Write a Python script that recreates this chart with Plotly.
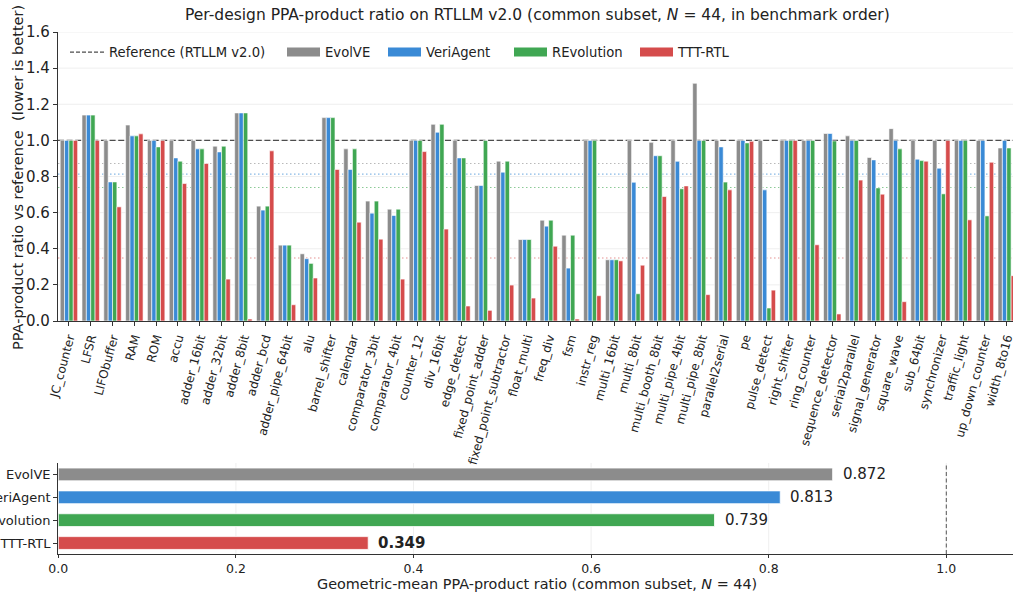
import plotly.graph_objects as go
from plotly.subplots import make_subplots

# Designs in benchmark order
designs = [
    "JC_counter", "LFSR", "LIFObuffer", "RAM", "ROM", "accu", "adder_16bit",
    "adder_32bit", "adder_8bit", "adder_bcd", "adder_pipe_64bit", "alu",
    "barrel_shifter", "calendar", "comparator_3bit", "comparator_4bit",
    "counter_12", "div_16bit", "edge_detect", "fixed_point_adder",
    "fixed_point_subtractor", "float_multi", "freq_div", "fsm", "instr_reg",
    "multi_16bit", "multi_8bit", "multi_booth_8bit", "multi_pipe_4bit",
    "multi_pipe_8bit", "parallel2serial", "pe", "pulse_detect", "right_shifter",
    "ring_counter", "sequence_detector", "serial2parallel", "signal_generator",
    "square_wave", "sub_64bit", "synchronizer", "traffic_light",
    "up_down_counter", "width_8to16",
]

# PPA-product ratio vs RTLLM v2.0 reference, per method
evolve = [1.0, 1.14, 1.0, 1.085, 1.0, 1.0, 1.0, 0.968, 1.152, 0.636, 0.42,
          0.372, 1.126, 0.953, 0.664, 0.619, 1.0, 1.089, 1.0, 0.75, 0.885,
          0.451, 0.558, 0.475, 1.0, 0.339, 1.0, 0.989, 1.0, 1.316, 1.0, 1.0,
          1.0, 1.0, 1.0, 1.038, 1.025, 0.905, 1.065, 1.0, 1.0, 1.0, 1.0, 0.958]
veriagent = [1.0, 1.14, 0.77, 1.025, 1.0, 0.903, 0.953, 0.936, 1.152, 0.614,
             0.42, 0.345, 1.126, 0.839, 0.597, 0.584, 1.0, 1.045, 0.903, 0.75,
             0.824, 0.451, 0.525, 0.293, 1.0, 0.339, 0.768, 0.915, 0.884, 1.0,
             0.964, 1.0, 0.726, 1.0, 1.0, 1.038, 1.0, 0.892, 1.0, 0.896, 0.846,
             1.0, 1.0, 1.0]
revolution = [1.0, 1.14, 0.77, 1.025, 0.964, 0.885, 0.953, 0.968, 1.152, 0.636,
              0.42, 0.319, 1.126, 0.953, 0.664, 0.619, 1.0, 1.089, 0.903, 1.0,
              0.885, 0.451, 0.558, 0.475, 1.0, 0.339, 0.151, 0.915, 0.732, 1.0,
              0.769, 0.986, 0.072, 1.0, 1.0, 0.997, 1.0, 0.737, 0.953, 0.888,
              0.704, 1.0, 0.582, 0.958]
ttt_rtl = [1.0, 1.0, 0.632, 1.036, 1.0, 0.761, 0.872, 0.232, 0.011, 0.942,
           0.09, 0.238, 0.839, 0.547, 0.453, 0.232, 0.938, 0.509, 0.083, 0.059,
           0.199, 0.127, 0.414, 0.011, 0.14, 0.333, 0.309, 0.689, 0.748, 0.146,
           0.726, 0.995, 0.171, 1.0, 0.422, 0.039, 0.78, 0.702, 0.107, 0.885,
           1.0, 0.56, 0.879, 0.251]

methods = ["EvolVE", "VeriAgent", "REvolution", "TTT-RTL"]
geo_means = [0.872, 0.813, 0.739, 0.349]
reference_level = 1.0
reference_name = "Reference (RTLLM v2.0)"
n_common = 44

colors = ["#8c8c8c", "#3a8ad6", "#40a753", "#d54c4c"]
series = [evolve, veriagent, revolution, ttt_rtl]

W, H = 1013, 595
FONT = "DejaVu Sans"
INK = "#222222"
SPINE = "#333333"
GRID = "#ebebeb"
REF_COLOR = "#4d4d4d"

TOP_YMAX = 1.6
TOP_XMAX = -0.5 + (W - 58) / 21.81
BOT_XMAX = (W - 58.3) / 888
BOT_YRANGE = [3.48, -0.5]


def px_x(p):
    return p / W


def px_y(p):
    return 1 - p / H


fig = make_subplots(rows=2, cols=1)

# Legend entries, each in its own legend box: short dashed line for the
# reference, wide colour swatches for the methods
legend_slots = [("legend", 65, 34)] + [
    (f"legend{i + 2}", x, 33) for i, x in enumerate([282, 383, 509, 635])
]
fig.add_trace(go.Scatter(
    x=[designs[0]], y=[None], mode="lines", name=reference_name, legend="legend",
    line=dict(color=REF_COLOR, width=1.3, dash="4px,2px"), showlegend=True,
), row=1, col=1)
for (leg, _, _), name, col in zip(legend_slots[1:], methods, colors):
    fig.add_trace(go.Scatter(
        x=[designs[0]], y=[None], mode="lines", name=name, legendgroup=name,
        legend=leg, line=dict(color=col, width=9), showlegend=True,
    ), row=1, col=1)

# Per-design grouped bars
for name, vals, col in zip(methods, series, colors):
    fig.add_trace(go.Bar(
        x=designs, y=vals, name=name, legendgroup=name, showlegend=False,
        marker=dict(color=col, line=dict(color="white", width=0.6)),
    ), row=1, col=1)

# Geometric-mean summary bars
fig.add_trace(go.Bar(
    x=geo_means, y=methods, orientation="h", width=0.56, showlegend=False,
    marker=dict(color=colors, line=dict(color="white", width=0.8)),
), row=2, col=1)

# Light gridlines first, then reference / mean lines, all beneath the bars
shapes = []
k = 1
while round(0.2 * k, 1) <= TOP_YMAX:
    v = round(0.2 * k, 1)
    shapes.append(dict(type="line", xref="x", x0=-0.5, x1=TOP_XMAX, yref="y",
                       y0=v, y1=v, layer="below", line=dict(color=GRID, width=0.8)))
    k += 1
k = 1
while round(0.2 * k, 1) <= BOT_XMAX:
    v = round(0.2 * k, 1)
    shapes.append(dict(type="line", xref="x2", x0=v, x1=v, yref="y2",
                       y0=BOT_YRANGE[0], y1=BOT_YRANGE[1], layer="below",
                       line=dict(color=GRID, width=0.8)))
    k += 1

shapes.append(dict(type="line", xref="x", x0=-0.5, x1=len(designs) - 0.5, yref="y",
                   y0=reference_level, y1=reference_level, layer="below",
                   line=dict(color=REF_COLOR, width=1.4, dash="6px,2.6px")))
for gm, col in zip(geo_means, colors):
    shapes.append(dict(type="line", xref="x", x0=-0.5, x1=len(designs) - 0.5, yref="y",
                       y0=gm, y1=gm, layer="below", opacity=0.6,
                       line=dict(color=col, width=1.1, dash="1.5px,2.5px")))
shapes.append(dict(type="line", xref="x2", x0=reference_level, x1=reference_level,
                   yref="y2", y0=BOT_YRANGE[0], y1=BOT_YRANGE[1], layer="below",
                   line=dict(color="#555555", width=1, dash="4px,2.5px")))

annotations = [
    dict(text="Per-design PPA-product ratio on RTLLM v2.0 (common subset, "
              f"<i>N</i> = {n_common}, in benchmark order)",
         xref="paper", yref="paper", x=px_x(537.5), y=px_y(15), showarrow=False,
         xanchor="center", yanchor="middle", font=dict(family=FONT, size=15.5, color=INK)),
    dict(text="PPA-product ratio vs reference  (lower is better)",
         xref="paper", yref="paper", x=px_x(18), y=px_y(178), textangle=-90,
         showarrow=False, xanchor="center", yanchor="middle",
         font=dict(family=FONT, size=14.5, color=INK)),
    dict(text=f"Geometric-mean PPA-product ratio (common subset, <i>N</i> = {n_common})",
         xref="paper", yref="paper", x=px_x(537), y=px_y(584), showarrow=False,
         xanchor="center", yanchor="middle", font=dict(family=FONT, size=14.4, color=INK)),
]
for name, gm in zip(methods, geo_means):
    label = f"{gm:.3f}"
    if gm == min(geo_means):
        label = f"<b>{label}</b>"
    annotations.append(dict(text=label, xref="x2", yref="y2", x=gm, y=name,
                            xanchor="left", yanchor="middle", xshift=8, showarrow=False,
                            font=dict(family=FONT, size=15, color=INK)))

legend_layout = {}
for leg, x_px, iw in legend_slots:
    legend_layout[leg] = dict(
        orientation="h", x=px_x(x_px), y=px_y(37), xanchor="left", yanchor="top",
        bgcolor="rgba(255,255,255,0)", borderwidth=0, itemwidth=iw,
        font=dict(family=FONT, size=13.2, color=INK))

fig.update_layout(
    width=W, height=H, template="none",
    margin=dict(l=0, r=0, t=0, b=0, pad=0),
    paper_bgcolor="white", plot_bgcolor="white",
    font=dict(family=FONT, color=INK),
    barmode="group", bargap=0.2, bargroupgap=0.0,
    shapes=shapes, annotations=annotations,
    **legend_layout,
)

fig.update_xaxes(
    type="category", categoryorder="array", categoryarray=designs,
    domain=[px_x(58), 1], range=[-0.5, TOP_XMAX],
    tickangle=-75,
    tickfont=dict(family=FONT, size=12, color=INK),
    showline=True, linecolor=SPINE, linewidth=1.3, ticks="outside", ticklen=4,
    tickcolor=SPINE, tickwidth=1, showgrid=False, zeroline=False, automargin=False,
    row=1, col=1)
fig.update_yaxes(
    domain=[px_y(321), px_y(32)], range=[0, TOP_YMAX], dtick=0.2, tickformat=".1f",
    tickfont=dict(family=FONT, size=15, color=INK),
    showline=True, linecolor=SPINE, linewidth=1.3, ticks="outside", ticklen=4,
    tickcolor=SPINE, showgrid=False, zeroline=False, automargin=False, row=1, col=1)

fig.update_xaxes(
    domain=[px_x(58.3), 1], range=[0, BOT_XMAX], dtick=0.2, tickformat=".1f",
    tickfont=dict(family=FONT, size=12.5, color=INK),
    showline=True, linecolor=SPINE, linewidth=1.3, ticks="outside", ticklen=3,
    tickcolor=SPINE, showgrid=False, zeroline=False, automargin=False, row=2, col=1)
fig.update_yaxes(
    type="category", categoryorder="array", categoryarray=methods,
    domain=[px_y(554), px_y(463)], range=BOT_YRANGE,
    tickfont=dict(family=FONT, size=13, color=INK),
    showline=True, linecolor=SPINE, linewidth=1.3, ticks="outside", ticklen=4,
    tickcolor=SPINE, showgrid=False, zeroline=False, automargin=False, row=2, col=1)

fig.write_html("out.html")
